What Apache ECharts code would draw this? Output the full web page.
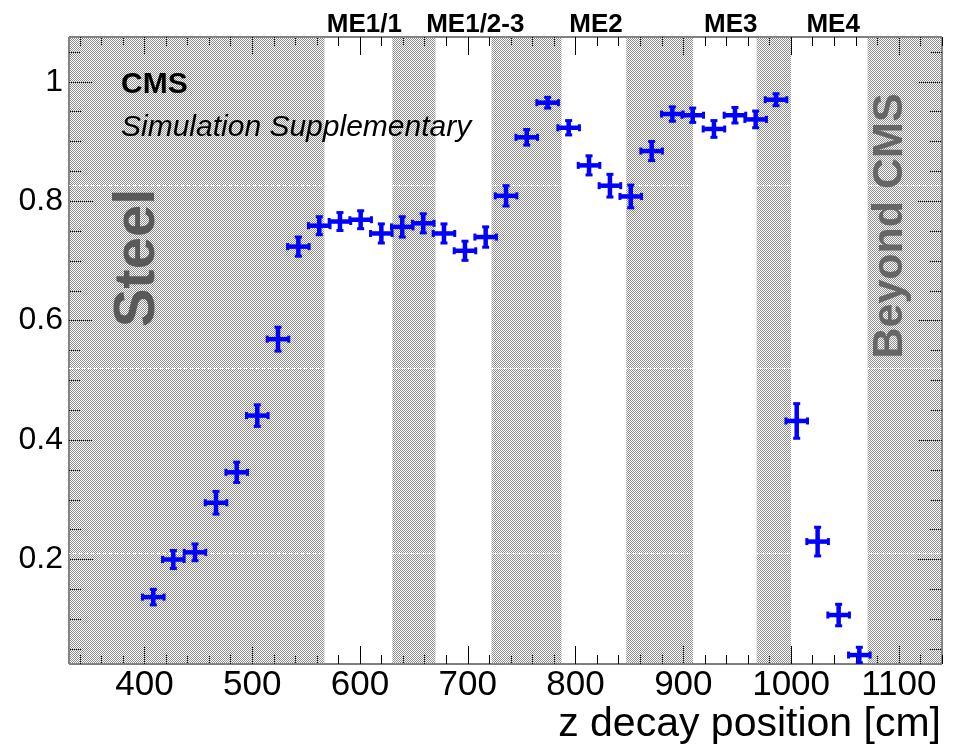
<!DOCTYPE html>
<html><head><meta charset="utf-8">
<script src="https://cdn.jsdelivr.net/npm/echarts@6/dist/echarts.min.js"></script>
<style>html,body{margin:0;padding:0;background:#fff}#c{width:955px;height:750px}</style>
</head><body><div id="c"></div><script>
// ---- data ----
const zCenters = [408.2, 426.8, 446.9, 466.4, 485.6, 504.7, 523.9, 542.8, 562.2, 581.4,
  600.6, 619.8, 639.2, 658.7, 677.9, 697.4, 716.6, 735.5, 754.7, 774.1,
  793.6, 812.5, 831.9, 851.2, 870.6, 889.8, 908.7, 928.4, 947.9, 967.1,
  986.0, 1005.2, 1024.6, 1044.1, 1063.3];
const efficiency = [0.137, 0.200, 0.212, 0.295, 0.346, 0.441, 0.569, 0.724, 0.759, 0.766,
  0.769, 0.746, 0.757, 0.763, 0.746, 0.717, 0.740, 0.809, 0.907, 0.965,
  0.923, 0.860, 0.826, 0.808, 0.884, 0.946, 0.944, 0.921, 0.944, 0.937,
  0.970, 0.432, 0.230, 0.107, 0.040];
const effErrors = [0.013, 0.015, 0.014, 0.019, 0.017, 0.018, 0.020, 0.016, 0.015, 0.015,
  0.015, 0.016, 0.017, 0.016, 0.016, 0.016, 0.017, 0.017, 0.013, 0.009,
  0.012, 0.016, 0.019, 0.019, 0.016, 0.012, 0.012, 0.014, 0.013, 0.014,
  0.010, 0.029, 0.024, 0.018, 0.013];
const binHalfWidth = 10;
const steelRegions = [[330, 567], [630, 670], [722, 787], [847, 909], [968, 1000], [1071, 1140]];
const stationNames = ['ME1/1', 'ME1/2-3', 'ME2', 'ME3', 'ME4'];
const stationLabelX = [604, 707, 819, 944, 1039];
const xMajorTicks = [400, 500, 600, 700, 800, 900, 1000, 1100];
const xMinorTicks = [340, 360, 380, 420, 440, 460, 480, 520, 540, 560, 580, 620, 640, 660, 680,
  720, 740, 760, 780, 820, 840, 860, 880, 920, 940, 960, 980, 1020, 1040, 1060, 1080, 1120, 1140];
const yMajorTicks = [0.2, 0.4, 0.6, 0.8, 1.0];
const yMinorTicks = [0.05, 0.1, 0.15, 0.25, 0.3, 0.35, 0.45, 0.5, 0.55, 0.65, 0.7, 0.75,
  0.85, 0.9, 0.95, 1.05];
const patternSeams = [0.827, 0.521, 0.211];
const X_MIN = 330, X_MAX = 1140, Y_MIN = 0.025, Y_MAX = 1.075;

const FONT = "'Liberation Sans', Arial, Helvetica, sans-serif";

// hatch pattern
const pc = document.createElement('canvas');
pc.width = 2; pc.height = 2;
const pctx = pc.getContext('2d');
pctx.fillStyle = '#8e8e8e';
pctx.fillRect(0, 0, 1, 1);
pctx.fillRect(1, 1, 1, 1);
const hatch = { image: pc, repeat: 'repeat' };

function xAxisDef(pos, ticks, len, showLabel) {
  return {
    type: 'value', min: X_MIN, max: X_MAX, position: pos,
    axisLine: { show: false }, splitLine: { show: false },
    axisTick: { show: true, inside: true, length: len, customValues: ticks,
      lineStyle: { color: '#000', width: 1 } },
    axisLabel: showLabel ? { show: true, customValues: ticks, fontSize: 35, margin: 4,
      color: '#000', fontFamily: FONT, formatter: v => String(v) } : { show: false }
  };
}
function yAxisDef(pos, ticks, len, showLabel) {
  return {
    type: 'value', min: Y_MIN, max: Y_MAX, position: pos,
    axisLine: { show: false }, splitLine: { show: false },
    axisTick: { show: true, inside: true, length: len, customValues: ticks,
      lineStyle: { color: '#000', width: 1 } },
    axisLabel: showLabel ? { show: true, customValues: ticks, fontSize: 32, margin: 6,
      color: '#000', fontFamily: FONT,
      formatter: v => String(Math.round(v * 10) / 10) } : { show: false }
  };
}

function renderRegion(params, api) {
  const x0 = api.value(0), x1 = api.value(1);
  const p0 = api.coord([x0, Y_MAX]);
  const p1 = api.coord([x1, Y_MIN]);
  const children = [{
    type: 'rect',
    shape: { x: p0[0], y: p0[1], width: p1[0] - p0[0], height: p1[1] - p0[1] },
    style: { fill: hatch }
  }];
  patternSeams.forEach(v => {
    const py = Math.round(api.coord([x0, v])[1]) + 0.5;
    children.push({ type: 'line', shape: { x1: p0[0], y1: py, x2: p1[0], y2: py },
      style: { stroke: '#ffffff', lineWidth: 1, lineDash: [2, 1] } });
  });
  return { type: 'group', children };
}

function renderCross(params, api) {
  const x = api.value(0), y = api.value(1), e = api.value(2);
  const c = api.coord([x, y]);
  const l = api.coord([x - binHalfWidth, y]);
  const r = api.coord([x + binHalfWidth, y]);
  const t = api.coord([x, y + e]);
  const b = api.coord([x, y - e]);
  const st = { stroke: '#0000ff', lineWidth: 4.5 };
  const cs = { stroke: '#0000ff', lineWidth: 3 };
  const cap = 3.5;
  return { type: 'group', children: [
    { type: 'line', shape: { x1: l[0], y1: c[1], x2: r[0], y2: c[1] }, style: st },
    { type: 'line', shape: { x1: c[0], y1: t[1], x2: c[0], y2: b[1] }, style: st },
    { type: 'line', shape: { x1: l[0], y1: c[1] - cap, x2: l[0], y2: c[1] + cap }, style: cs },
    { type: 'line', shape: { x1: r[0], y1: c[1] - cap, x2: r[0], y2: c[1] + cap }, style: cs },
    { type: 'line', shape: { x1: c[0] - cap, y1: t[1], x2: c[0] + cap, y2: t[1] }, style: cs },
    { type: 'line', shape: { x1: c[0] - cap, y1: b[1], x2: c[0] + cap, y2: b[1] }, style: cs }
  ] };
}

const chart = echarts.init(document.getElementById('c'), null, { renderer: 'canvas' });
chart.setOption({
  animation: false,
  backgroundColor: '#ffffff',
  grid: { left: 69, right: 13, top: 37, bottom: 86, show: true, borderColor: '#000', borderWidth: 1,
    backgroundColor: 'transparent' },
  xAxis: [
    xAxisDef('bottom', xMajorTicks, 18, true),
    xAxisDef('bottom', xMinorTicks, 9, false),
    xAxisDef('top', xMajorTicks, 18, false),
    xAxisDef('top', xMinorTicks, 9, false)
  ],
  yAxis: [
    yAxisDef('left', yMajorTicks, 24, true),
    yAxisDef('left', yMinorTicks, 12, false),
    yAxisDef('right', yMajorTicks, 24, false),
    yAxisDef('right', yMinorTicks, 12, false)
  ],
  series: [
    { type: 'custom', name: 'Steel regions', renderItem: renderRegion, silent: true, z: 2,
      data: steelRegions, encode: { x: [0, 1] }, clip: true },
    { type: 'custom', name: 'Efficiency', renderItem: renderCross, z: 3, clip: true,
      data: zCenters.map((x, i) => [x, efficiency[i], effErrors[i]]),
      encode: { x: 0, y: 1 } }
  ]
});

const gx = stationLabelX.map(v => chart.convertToPixel({ xAxisIndex: 0 }, v));
const graphics = stationNames.map((n, i) => ({
  type: 'text', z: 10, x: gx[i], y: 25,
  style: { text: n, fontSize: 26, fontWeight: 'bold', fontFamily: FONT, fill: '#000',
    align: 'center', verticalAlign: 'middle' }
}));
graphics.push(
  { type: 'text', z: 10, x: 121, y: 84.5,
    style: { text: 'CMS', fontSize: 30, fontWeight: 'bold', fontFamily: FONT, fill: '#000',
      align: 'left', verticalAlign: 'middle' } },
  { type: 'text', z: 10, x: 121, y: 127.5,
    style: { text: 'Simulation Supplementary', fontSize: 30, fontStyle: 'italic', fontFamily: FONT,
      fill: '#000', align: 'left', verticalAlign: 'middle' } },
  { type: 'text', z: 10, x: 138, y: 258, rotation: Math.PI / 2,
    style: { text: 'Steel', fontSize: 58, fontWeight: 'bold', fontFamily: FONT, fill: '#595959',
      align: 'center', verticalAlign: 'middle' } },
  { type: 'text', z: 10, x: 890, y: 226, rotation: Math.PI / 2,
    style: { text: 'Beyond CMS', fontSize: 43, fontWeight: 'bold', fontFamily: FONT, fill: '#666666',
      align: 'center', verticalAlign: 'middle' } },
  { type: 'text', z: 10, x: 941, y: 725,
    style: { text: 'z decay position [cm]', fontSize: 41, fontFamily: FONT, fill: '#000',
      align: 'right', verticalAlign: 'middle' } }
);
chart.setOption({ graphic: graphics });
</script></body></html>
